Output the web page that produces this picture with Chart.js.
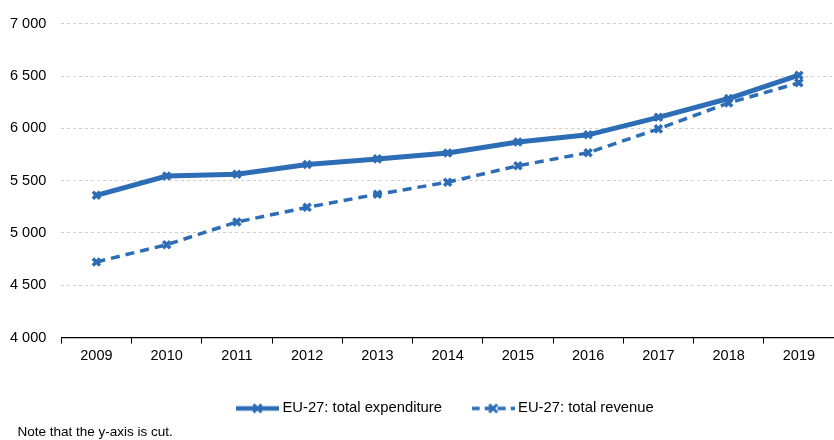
<!DOCTYPE html>
<html>
<head>
<meta charset="utf-8">
<script src="https://cdn.jsdelivr.net/npm/chart.js@4"></script>
<style>
  html, body { margin: 0; padding: 0; background: #fff; }
  #wrap { width: 834px; height: 440px; position: relative; }
</style>
</head>
<body>
<div id="wrap"><canvas id="mainChart"></canvas></div>
<script>
const YEARS = ['2009', '2010', '2011', '2012', '2013', '2014', '2015', '2016', '2017', '2018', '2019'];
const EXPENDITURE = [5360, 5544, 5562, 5655, 5708, 5765, 5870, 5938, 6105, 6285, 6508];
const REVENUE = [4723, 4888, 5105, 5245, 5370, 5485, 5642, 5767, 5995, 6243, 6435];
const Y_MIN = 4000, Y_MAX = 7000, Y_STEP = 500;

const BLUE = '#2c6db5';
const FONT = 'Liberation Sans, Arial, sans-serif';

// legend swatch: line + cross marker
function makeSwatch(dashed) {
  const c = document.createElement('canvas');
  c.width = 43; c.height = 14;
  const g = c.getContext('2d');
  g.strokeStyle = BLUE;
  g.lineWidth = dashed ? 3.5 : 4.5;
  if (dashed) g.setLineDash([8, 5]);
  g.beginPath(); g.moveTo(0, 7); g.lineTo(43, 7); g.stroke();
  g.setLineDash([]);
  g.lineWidth = 3;
  g.beginPath();
  g.moveTo(17.5, 3); g.lineTo(25.5, 11);
  g.moveTo(25.5, 3); g.lineTo(17.5, 11);
  g.stroke();
  return c;
}

function fmt(v) {
  return String(v).replace(/\B(?=(\d{3})+(?!\d))/g, ' ');
}

// legend is not centred on the canvas in the original, move it a bit right
const legendShift = {
  id: 'legendShift',
  afterLayout(chart) {
    if (chart.legend) chart.legend.left = 231;
  }
};

Chart.defaults.font.family = FONT;
Chart.defaults.color = '#000';

new Chart(document.getElementById('mainChart'), {
  type: 'line',
  data: {
    labels: YEARS,
    datasets: [
      {
        label: 'EU-27: total expenditure',
        data: EXPENDITURE,
        borderColor: BLUE,
        backgroundColor: BLUE,
        borderWidth: 5,
        pointStyle: 'crossRot',
        pointRadius: 5,
        pointBorderWidth: 3.5,
        tension: 0,
        swatch: makeSwatch(false),
        legendText: 'EU-27: total expenditure      '
      },
      {
        label: 'EU-27: total revenue',
        data: REVENUE,
        borderColor: BLUE,
        backgroundColor: BLUE,
        borderWidth: 3.5,
        borderDash: [9, 6],
        pointStyle: 'crossRot',
        pointRadius: 5,
        pointBorderWidth: 3.5,
        tension: 0,
        swatch: makeSwatch(true),
        legendText: 'EU-27: total revenue'
      }
    ]
  },
  plugins: [legendShift],
  options: {
    responsive: true,
    maintainAspectRatio: false,
    animation: false,
    layout: { autoPadding: false, padding: { left: 10, right: 0, top: 14, bottom: 0 } },
    scales: {
      x: {
        offset: true,
        grid: { offset: true, drawOnChartArea: false, drawTicks: true, tickLength: 6, color: '#000' },
        border: { color: '#000', width: 1.2 },
        ticks: { font: { size: 14.5 }, color: '#000', padding: 4 },
        afterFit: s => { s.height += 23; s.paddingLeft = 0; s.paddingRight = 0; }
      },
      y: {
        min: Y_MIN,
        max: Y_MAX,
        ticks: { stepSize: Y_STEP, font: { size: 14.5 }, color: '#000', padding: 15, callback: v => fmt(v) },
        grid: { color: '#cfcfcf', drawTicks: false, lineWidth: 1 },
        border: { display: false, dash: [3, 3] },
        afterFit: s => { s.width -= 15; }
      }
    },
    plugins: {
      legend: {
        position: 'bottom',
        align: 'start',
        labels: {
          usePointStyle: true,
          pointStyleWidth: 35,
          font: { size: 14.8 },
          color: '#000',
          padding: 9,
          generateLabels: chart => chart.data.datasets.map((ds, i) => ({
            text: ds.legendText,
            pointStyle: ds.swatch,
            fillStyle: BLUE,
            strokeStyle: BLUE,
            lineWidth: 0,
            hidden: false,
            datasetIndex: i
          }))
        }
      },
      title: {
        display: true,
        position: 'bottom',
        align: 'start',
        text: '  Note that the y-axis is cut.',
        font: { size: 13.5, weight: 'normal' },
        color: '#000',
        padding: { top: -2, bottom: 0 }
      },
      tooltip: { enabled: false }
    }
  }
});
</script>
</body>
</html>
